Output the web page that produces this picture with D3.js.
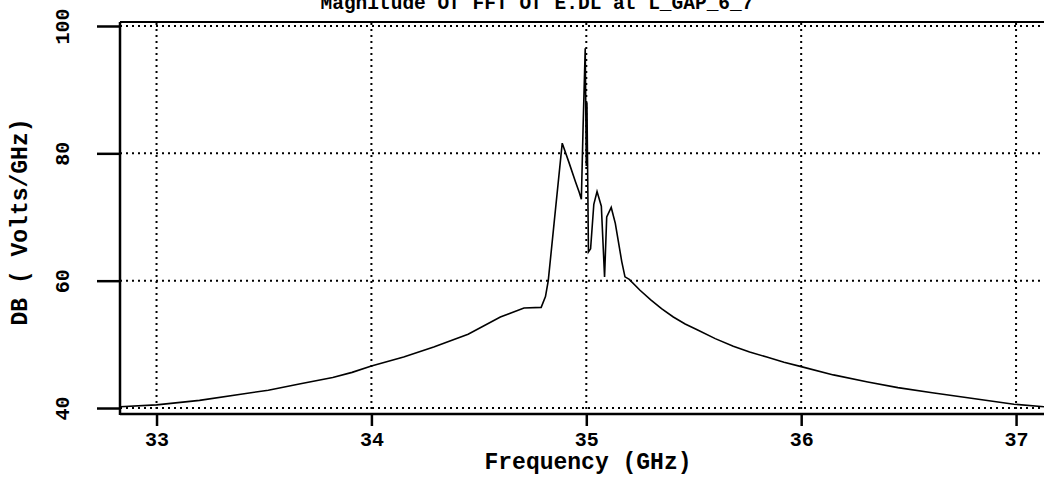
<!DOCTYPE html>
<meta charset="utf-8">
<style>
body { margin: 0; background: #fff; }
text { font-family: "Liberation Mono", "DejaVu Sans Mono", monospace; font-weight: bold; fill: #000; }
.grid line { stroke: #000; stroke-width: 2; stroke-dasharray: 2,4; }
.line { fill: none; stroke: #000; stroke-width: 1.6px; }
</style>
<body>
<script src="https://cdn.jsdelivr.net/npm/d3@7"></script>
<script>

// frequency (GHz) and magnitude (dB)
var freq = [32.83, 33.0, 33.2, 33.4, 33.52, 33.67, 33.82, 33.91, 34.0, 34.15, 34.29, 34.45, 34.6, 34.71,
            34.79, 34.81, 34.823, 34.85, 34.888, 34.92, 34.95, 34.967, 34.977, 34.985, 34.995,
            35.0, 35.003, 35.01, 35.02, 35.035, 35.05, 35.07, 35.085, 35.095, 35.116, 35.135,
            35.165, 35.18, 35.2, 35.25, 35.3, 35.35, 35.405, 35.46, 35.516, 35.6, 35.684, 35.76,
            35.84, 35.92, 36.0, 36.15, 36.31, 36.45, 36.61, 36.8, 36.99, 37.13];
var db   = [40.2, 40.5, 41.2, 42.2, 42.8, 43.8, 44.8, 45.6, 46.6, 48.0, 49.6, 51.6, 54.3, 55.7,
            55.8, 57.5, 60.0, 69.0, 81.6, 78.5, 75.5, 73.9, 72.8, 84.0, 96.5,
            78.0, 88.0, 64.5, 65.0, 72.0, 74.0, 71.7, 60.6, 70.0, 71.5, 69.0,
            63.0, 60.6, 60.2, 58.5, 57.0, 55.6, 54.3, 53.2, 52.3, 50.9, 49.7, 48.8,
            48.0, 47.2, 46.5, 45.2, 44.1, 43.2, 42.4, 41.5, 40.6, 40.2];

var xTicks = [33, 34, 35, 36, 37];
var yTicks = [40, 60, 80, 100];

var data = freq.map(function(f, i) { return {f: f, v: db[i]}; });

var W = 1044, H = 478;
var m = {left: 120, right: 1044, top: 23, bottom: 414};

var x = d3.scaleLinear().domain([32.83, 37.13]).range([m.left, m.right]);
var y = d3.scaleLinear().domain([39.06, 100.47]).range([m.bottom, m.top]);

var svg = d3.select("body").append("svg")
    .attr("width", W)
    .attr("height", H);

// dotted grid
var grid = svg.append("g").attr("class", "grid");
grid.selectAll(".gx").data(xTicks).enter().append("line")
    .attr("x1", d => x(d)).attr("x2", d => x(d))
    .attr("y1", m.top).attr("y2", m.bottom);
grid.selectAll(".gy").data(yTicks).enter().append("line")
    .attr("x1", m.left).attr("x2", m.right)
    .attr("y1", d => y(d)).attr("y2", d => y(d));

// axes
var yAxis = svg.append("g")
    .attr("transform", "translate(" + m.left + ",0)")
    .call(d3.axisLeft(y).tickValues(yTicks).tickSize(23).tickFormat(d3.format("d")));
yAxis.select(".domain").remove();
yAxis.selectAll(".tick line").attr("stroke", "#000").attr("stroke-width", 2.5);
yAxis.selectAll(".tick text")
    .attr("x", 0).attr("dy", 0)
    .attr("transform", "translate(-57,0) rotate(-90)")
    .attr("text-anchor", "middle")
    .attr("dominant-baseline", "central")
    .style("font-size", "20px");

var xAxis = svg.append("g")
    .attr("transform", "translate(0," + m.bottom + ")")
    .call(d3.axisBottom(x).tickValues(xTicks).tickSize(12).tickPadding(6).tickFormat(d3.format("d")));
xAxis.select(".domain").remove();
xAxis.selectAll(".tick line").attr("stroke", "#000").attr("stroke-width", 2.5);
xAxis.selectAll(".tick text").style("font-size", "20px");

// frame lines
svg.append("line").attr("x1", m.left).attr("x2", m.left).attr("y1", m.top - 1).attr("y2", m.bottom + 1)
    .attr("stroke", "#000").attr("stroke-width", 2.5);
svg.append("line").attr("x1", m.left).attr("x2", m.right).attr("y1", m.bottom).attr("y2", m.bottom)
    .attr("stroke", "#000").attr("stroke-width", 2.5);
svg.append("line").attr("x1", m.left).attr("x2", m.right).attr("y1", m.top - 1).attr("y2", m.top - 1)
    .attr("stroke", "#000").attr("stroke-width", 2);

// the spectrum
svg.append("path")
    .datum(data)
    .attr("class", "line")
    .attr("d", d3.line().x(d => x(d.f)).y(d => y(d.v)));

// labels
svg.append("text")
    .attr("x", 537).attr("y", 9)
    .attr("text-anchor", "middle")
    .style("font-size", "19.5px")
    .text("Magnitude Of FFT Of E.DL at L_GAP_6_7");

svg.append("text")
    .attr("x", 588).attr("y", 469)
    .attr("text-anchor", "middle")
    .style("font-size", "23px")
    .text("Frequency (GHz)");

svg.append("text")
    .attr("transform", "translate(21,222) rotate(-90)")
    .attr("text-anchor", "middle")
    .attr("dominant-baseline", "central")
    .style("font-size", "23px")
    .text("DB ( Volts/GHz)");

</script>
</body>
